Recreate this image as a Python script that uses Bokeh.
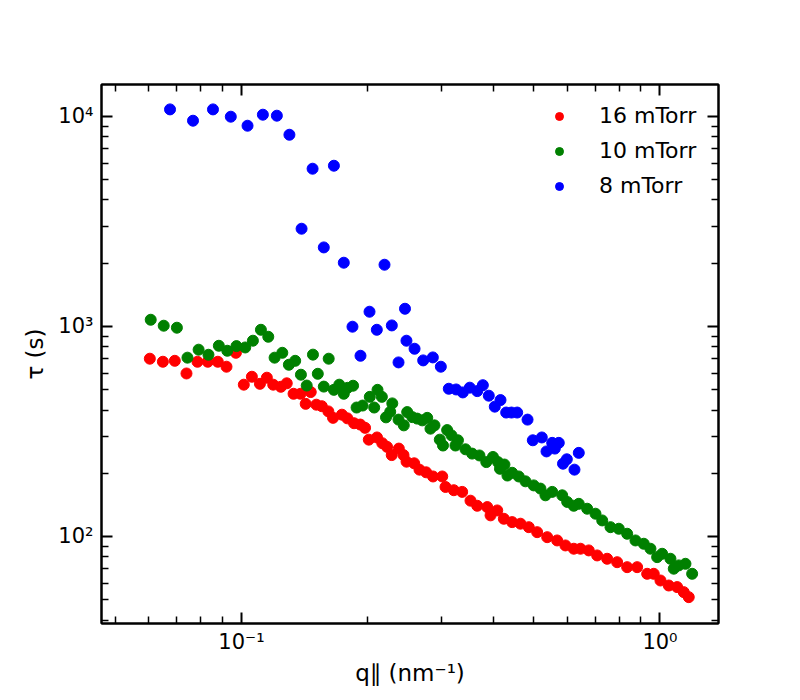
from bokeh.plotting import figure
from bokeh.models import LogAxis, FixedTicker, CustomJSTickFormatter, Legend
from bokeh.embed import file_html
from bokeh.resources import INLINE

# ---- data (q in nm^-1, tau in s) ----
q_16 = [0.0604, 0.0649, 0.0693, 0.0739, 0.0785, 0.0831, 0.0878, 0.0921, 0.0970, 0.1013,
        0.1059, 0.1107, 0.1150, 0.1191, 0.1242, 0.1283, 0.1332, 0.1384, 0.1424, 0.1464,
        0.1510, 0.1556, 0.1613, 0.1655, 0.1738, 0.1791, 0.1858, 0.1923, 0.1974, 0.2015,
        0.2108, 0.2170, 0.2228, 0.2286, 0.2377, 0.2439, 0.2480, 0.2587, 0.2663, 0.2763,
        0.2869, 0.3018, 0.3073, 0.3217, 0.3368, 0.3526, 0.3659, 0.3866, 0.3937, 0.4085,
        0.4236, 0.4434, 0.4642, 0.4859, 0.5088, 0.5377, 0.5680, 0.5944, 0.6224, 0.6458,
        0.6759, 0.7079, 0.7478, 0.7901, 0.8348, 0.8820, 0.9320, 0.9665, 1.0028, 1.0496,
        1.0992, 1.1399, 1.1717]
tau_16 = [702, 679, 686, 597, 679, 679, 679, 643, 749, 528,
          576, 533, 570, 528, 516, 536, 478, 478, 428, 487,
          424, 417, 394, 367, 380, 365, 346, 341, 329, 289,
          296, 278, 267, 244, 262, 244, 227, 223, 208, 202,
          193, 193, 172, 166, 163, 148, 140, 138, 126, 133,
          121.4, 117, 115, 110.7, 104.8, 99.2, 95.7, 90.6, 87.4, 87.4,
          85.8, 81.2, 78.3, 75.4, 71.4, 71.4, 66.4, 66.4, 61.7, 58.4,
          57.4, 54.3, 51.4]

q_10 = [0.0607, 0.0652, 0.0701, 0.0743, 0.0790, 0.0834, 0.0883, 0.0925, 0.0973, 0.1021,
        0.1065, 0.1113, 0.1159, 0.1200, 0.1252, 0.1298, 0.1344, 0.1387, 0.1432, 0.1482,
        0.1522, 0.1573, 0.1616, 0.1663, 0.1713, 0.1756, 0.1793, 0.1848, 0.1884, 0.1947,
        0.2026, 0.2076, 0.2114, 0.2165, 0.2215, 0.2267, 0.2293, 0.2373, 0.2443, 0.2489,
        0.2559, 0.2630, 0.2704, 0.2779, 0.2829, 0.2892, 0.2978, 0.3031, 0.3101, 0.3176,
        0.3246, 0.3291, 0.3430, 0.3558, 0.3704, 0.3846, 0.3990, 0.4102, 0.4147, 0.4250,
        0.4321, 0.4434, 0.4598, 0.4771, 0.4993, 0.5181, 0.5326, 0.5527, 0.5840, 0.6003,
        0.6224, 0.6398, 0.6700, 0.7014, 0.7278, 0.7617, 0.7973, 0.8348, 0.8739, 0.9148,
        0.9491, 0.9847, 1.0122, 1.0594, 1.0789, 1.1089, 1.1506, 1.1937]
tau_10 = [1076, 1008, 986, 710, 775, 733, 809, 766, 806, 794,
          855, 964, 893, 710, 749, 657, 686, 589, 523, 734,
          595, 517, 702, 499, 528, 478, 510, 522, 411, 420,
          462, 411, 499, 462, 369, 392, 430, 360, 338, 391,
          370, 364, 357, 367, 326, 338, 289, 271, 321, 303,
          271, 287, 260, 248, 243, 226, 239, 226, 210, 220,
          195, 201, 193, 183, 175, 169, 157, 163, 157, 146,
          140, 143, 135.5, 128.3, 119.2, 110.7, 108.8, 103, 95.7, 92.3,
          87.4, 79.7, 82.7, 78.3, 70.2, 72.8, 74.1, 66.4]

q_8 = [0.0675, 0.0766, 0.0855, 0.0943, 0.1034, 0.1125, 0.1215, 0.1302, 0.1392, 0.1479,
       0.1573, 0.1663, 0.1756, 0.1842, 0.1925, 0.2023, 0.2106, 0.2197, 0.2287, 0.2373,
       0.2459, 0.2479, 0.2592, 0.2718, 0.2866, 0.2995, 0.3129, 0.3259, 0.3380, 0.3512,
       0.3659, 0.3774, 0.3899, 0.4030, 0.4159, 0.4291, 0.4418, 0.4559, 0.4826, 0.4968,
       0.5220, 0.5357, 0.5527, 0.5607, 0.5731, 0.5866, 0.5990, 0.6248, 0.6398]
tau_8 = [10800, 9540, 10800, 9970, 9030, 10190, 10080, 8180, 2919, 5636,
         2378, 5824, 2011, 997, 725, 1175, 964, 1967, 1011, 674,
         1214, 855, 783, 689, 712, 643, 505, 501, 485, 511,
         492, 525, 468, 415, 446, 389, 389, 389, 360, 287,
         296, 254, 279, 262, 279, 222, 233, 208, 250]

series_labels = ["16 mTorr", "10 mTorr", "8 mTorr"]
series_colors = ["#ff0000", "#008000", "#0000ff"]

x_major = [0.1, 1.0]
x_minor = [0.05, 0.06, 0.07, 0.08, 0.09, 0.2, 0.3, 0.4, 0.5, 0.6, 0.7, 0.8, 0.9]
y_major = [100, 1000, 10000]
y_minor = [40, 50, 60, 70, 80, 90, 200, 300, 400, 500, 600, 700, 800, 900,
           2000, 3000, 4000, 5000, 6000, 7000, 8000, 9000]

FONT = "DejaVu Sans"

p = figure(width=784, height=692, x_axis_type="log", y_axis_type="log",
           x_range=(0.0463, 1.38), y_range=(38.5, 14190),
           output_backend="svg", toolbar_location=None,
           min_border_left=101, min_border_right=66, min_border_top=84, min_border_bottom=69)
p.xgrid.visible = False
p.ygrid.visible = False
p.outline_line_color = "black"
p.outline_line_width = 2
p.background_fill_color = "white"
p.border_fill_color = "white"

sup_code = """
const sup = {'-':'\u207b','0':'\u2070','1':'\u00b9','2':'\u00b2','3':'\u00b3','4':'\u2074',
             '5':'\u2075','6':'\u2076','7':'\u2077','8':'\u2078','9':'\u2079'};
const e = Math.round(Math.log10(tick));
return '10' + String(e).split('').map(c => sup[c]).join('');
"""

def style_axis(ax, ticks, minor, show_labels):
    ax.ticker = FixedTicker(ticks=ticks, minor_ticks=minor)
    ax.axis_line_width = 2
    ax.axis_line_color = "black"
    ax.major_tick_in = 11
    ax.major_tick_out = 0
    ax.minor_tick_in = 7
    ax.minor_tick_out = 0
    ax.major_tick_line_width = 2
    ax.minor_tick_line_width = 1.5
    ax.major_tick_line_color = "black"
    ax.minor_tick_line_color = "black"
    ax.major_label_text_font = FONT
    ax.major_label_text_color = "black"
    ax.major_label_text_font_size = "21px"
    if show_labels:
        ax.formatter = CustomJSTickFormatter(code=sup_code)
    else:
        ax.formatter = CustomJSTickFormatter(code="return '';")
        ax.major_label_standoff = 0

style_axis(p.xaxis[0], x_major, x_minor, True)
style_axis(p.yaxis[0], y_major, y_minor, True)
p.xaxis[0].major_label_standoff = 6
p.yaxis[0].major_label_standoff = 8

p.xaxis.axis_label = "q\u2225 (nm\u207b\u00b9)"
p.yaxis.axis_label = "\u03c4 (s)"
for ax in (p.xaxis[0], p.yaxis[0]):
    ax.axis_label_text_font = FONT
    ax.axis_label_text_font_size = "23px"
    ax.axis_label_text_font_style = "normal"
    ax.axis_label_text_color = "black"
p.xaxis[0].axis_label_standoff = 3
p.yaxis[0].axis_label_standoff = 7

top_ax = LogAxis()
style_axis(top_ax, x_major, x_minor, False)
p.add_layout(top_ax, "above")
right_ax = LogAxis()
style_axis(right_ax, y_major, y_minor, False)
p.add_layout(right_ax, "right")

renderers = []
for qs, ts, col in zip([q_16, q_10, q_8], [tau_16, tau_10, tau_8], series_colors):
    r = p.scatter(qs, ts, size=11, fill_color=col, line_color=col, marker="circle")
    renderers.append(r)

legend = Legend(items=[(lab, [r]) for lab, r in zip(series_labels, renderers)],
                location="top_right")
legend.border_line_color = None
legend.background_fill_alpha = 0
legend.label_text_font = FONT
legend.label_text_font_size = "22px"
legend.label_text_color = "black"
legend.glyph_width = 20
legend.glyph_height = 24
legend.label_height = 24
legend.label_width = 100
legend.label_standoff = 30
legend.spacing = 10
legend.margin = 19
legend.padding = 8
p.add_layout(legend)

open("out.html", "w").write(file_html(p, INLINE))
